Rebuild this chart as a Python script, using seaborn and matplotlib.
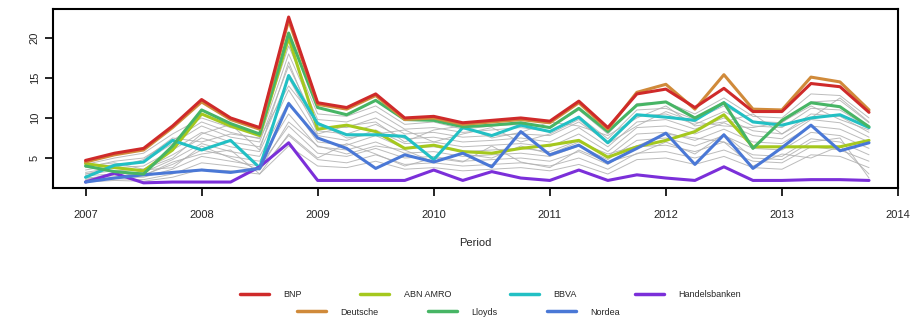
import numpy as np
import pandas as pd
import matplotlib
matplotlib.use("Agg")
import matplotlib.pyplot as plt
import seaborn as sns

# quarterly periods 2007.00 .. 2013.75
period = [2007.0, 2007.25, 2007.5, 2007.75, 2008.0, 2008.25, 2008.5, 2008.75,
          2009.0, 2009.25, 2009.5, 2009.75, 2010.0, 2010.25, 2010.5, 2010.75,
          2011.0, 2011.25, 2011.5, 2011.75, 2012.0, 2012.25, 2012.5, 2012.75,
          2013.0, 2013.25, 2013.5, 2013.75]

bnp = [4.7, 5.6, 6.2, 9.0, 12.3, 10.0, 8.8, 22.6, 11.9, 11.3, 13.0, 10.0, 10.2, 9.4,
       9.7, 10.0, 9.6, 12.1, 8.8, 13.0, 13.6, 11.3, 13.7, 10.8, 10.8, 14.3, 13.9, 10.7]
abn_amro = [4.3, 3.8, 3.4, 6.0, 10.5, 9.0, 7.8, 20.0, 8.6, 9.1, 8.3, 6.2, 6.6, 5.8,
            5.6, 6.2, 6.6, 7.2, 5.1, 6.4, 7.2, 8.3, 10.4, 6.4, 6.4, 6.4, 6.4, 7.2]
bbva = [2.6, 4.1, 4.5, 7.2, 6.0, 7.2, 3.8, 15.3, 9.3, 7.9, 7.9, 7.7, 4.8, 8.8,
        7.8, 9.1, 8.3, 10.1, 6.9, 10.4, 10.1, 9.7, 11.9, 9.5, 9.1, 10.0, 10.4, 8.8]
handelsbanken = [2.0, 3.1, 1.9, 2.0, 2.0, 2.0, 3.9, 6.9, 2.2, 2.2, 2.2, 2.2, 3.5, 2.2,
                 3.3, 2.5, 2.2, 3.5, 2.2, 2.9, 2.5, 2.2, 3.9, 2.2, 2.2, 2.3, 2.3, 2.2]
deutsche = [4.5, 5.4, 6.0, 8.8, 12.0, 9.8, 8.6, 22.2, 11.7, 11.1, 12.8, 9.8, 10.0, 9.2,
            9.5, 9.8, 9.4, 11.9, 8.6, 13.2, 14.2, 11.1, 15.4, 11.1, 11.0, 15.1, 14.5, 11.0]
lloyds = [4.0, 3.3, 3.0, 6.5, 11.0, 9.3, 8.0, 20.6, 11.3, 10.4, 12.2, 9.8, 9.7, 8.9,
          9.1, 9.4, 8.8, 11.2, 8.3, 11.6, 12.0, 10.0, 11.9, 6.2, 9.7, 11.9, 11.4, 8.9]
nordea = [2.0, 2.5, 2.9, 3.2, 3.5, 3.2, 3.7, 11.8, 7.5, 6.2, 3.7, 5.4, 4.5, 5.6,
          3.9, 8.3, 5.4, 6.6, 4.4, 6.2, 8.1, 4.2, 7.9, 3.7, 6.3, 9.1, 5.9, 6.9]

# background banks (thin grey lines)
grey_banks = [
    [4.2, 5.0, 5.6, 8.0, 10.0, 8.8, 8.0, 19.0, 10.5, 10.2, 11.5, 9.2, 9.5, 8.6, 9.0, 9.2, 8.8, 11.0, 8.0, 11.8, 12.0, 10.5, 12.5, 10.2, 10.0, 13.0, 12.8, 10.0],
    [3.8, 4.6, 5.0, 7.2, 9.5, 8.2, 7.4, 18.0, 9.8, 9.5, 10.8, 8.6, 8.8, 8.2, 8.5, 8.8, 8.3, 10.2, 7.4, 11.0, 11.2, 9.8, 11.5, 9.6, 9.4, 12.0, 12.2, 9.4],
    [3.5, 4.2, 4.5, 6.8, 9.0, 7.6, 7.0, 16.5, 9.0, 8.8, 10.0, 8.0, 8.2, 7.6, 7.8, 8.0, 7.8, 9.5, 7.0, 10.2, 10.5, 9.2, 10.8, 9.0, 8.8, 11.2, 11.0, 8.8],
    [3.2, 3.8, 4.0, 6.0, 8.2, 7.0, 6.4, 15.0, 8.4, 8.0, 9.2, 7.4, 7.6, 7.0, 7.2, 7.5, 7.0, 8.8, 6.4, 9.5, 9.8, 8.6, 10.0, 8.4, 8.0, 10.5, 10.2, 8.2],
    [3.0, 3.4, 3.6, 5.4, 7.5, 6.4, 5.8, 13.5, 7.8, 7.2, 8.5, 6.8, 7.0, 6.4, 6.6, 6.8, 6.4, 8.0, 5.8, 8.8, 9.0, 8.0, 9.4, 7.8, 7.4, 9.8, 9.4, 7.6],
    [2.8, 3.0, 3.2, 4.8, 6.8, 5.8, 5.2, 12.0, 7.0, 6.6, 7.8, 6.2, 6.4, 5.8, 6.0, 6.2, 5.8, 7.2, 5.2, 8.0, 8.2, 7.2, 8.6, 7.0, 6.8, 9.0, 8.6, 7.0],
    [2.5, 2.8, 2.9, 4.2, 6.0, 5.2, 4.6, 10.5, 6.4, 6.0, 7.0, 5.6, 5.8, 5.2, 5.4, 5.6, 5.2, 6.5, 4.8, 7.2, 7.5, 6.5, 7.8, 6.2, 6.0, 8.2, 7.8, 6.2],
    [2.3, 2.6, 2.6, 3.6, 5.2, 4.6, 4.0, 9.0, 5.6, 5.2, 6.2, 5.0, 5.2, 4.6, 4.8, 5.0, 4.6, 5.8, 4.2, 6.4, 6.6, 5.8, 7.0, 5.4, 5.2, 7.4, 7.0, 5.4],
    [2.1, 2.4, 2.3, 3.0, 4.4, 4.0, 3.5, 7.8, 4.8, 4.4, 5.4, 4.2, 4.4, 4.0, 4.2, 4.4, 4.0, 5.0, 3.6, 5.6, 5.8, 5.0, 6.0, 4.6, 4.4, 6.4, 6.0, 4.6],
    [2.0, 2.2, 2.1, 2.6, 3.6, 3.4, 3.0, 6.5, 4.0, 3.8, 4.6, 3.6, 3.8, 3.4, 3.6, 3.8, 3.4, 4.2, 3.0, 4.8, 5.0, 4.2, 5.2, 3.8, 3.6, 5.4, 5.2, 3.8],
    [4.0, 4.4, 3.6, 5.0, 8.0, 9.2, 6.0, 17.0, 8.0, 9.0, 9.5, 7.0, 8.5, 9.0, 7.5, 8.2, 9.5, 9.0, 7.8, 10.0, 11.5, 9.0, 9.5, 10.5, 8.0, 10.0, 12.5, 9.5],
    [3.0, 3.8, 4.8, 7.5, 7.0, 8.0, 7.5, 14.0, 9.5, 7.5, 8.0, 8.5, 7.0, 8.0, 8.8, 7.0, 8.0, 9.8, 6.8, 9.0, 10.8, 9.5, 9.0, 8.8, 9.5, 11.5, 9.8, 8.5],
    [2.2, 3.2, 2.8, 4.5, 5.5, 6.0, 3.0, 8.0, 5.0, 6.8, 5.5, 4.0, 5.0, 4.5, 6.5, 4.5, 3.8, 6.0, 4.5, 5.5, 7.0, 5.5, 8.0, 5.0, 4.8, 7.0, 7.5, 2.5],
    [2.5, 2.4, 3.5, 3.8, 6.5, 5.0, 3.5, 9.5, 6.5, 5.5, 6.5, 6.0, 4.5, 5.5, 5.0, 6.5, 5.5, 7.0, 5.5, 6.5, 8.0, 7.5, 7.0, 4.0, 5.5, 5.0, 6.5, 3.0],
]

sns.set_style("white")
plt.rcParams['font.family'] = ['Liberation Sans', 'DejaVu Sans']

fig = plt.figure(figsize=(9.22, 3.22), dpi=100)
ax = fig.add_axes([0.0575, 0.416, 0.9165, 0.556])

for g in grey_banks:
    sns.lineplot(x=period, y=g, ax=ax, color="#b0b0b0", lw=0.7, alpha=0.85)

highlight = [
    ("ABN AMRO", abn_amro, "#a5c81e"),
    ("BBVA", bbva, "#22c0c4"),
    ("Handelsbanken", handelsbanken, "#7b2fd9"),
    ("Nordea", nordea, "#4a78d6"),
    ("Lloyds", lloyds, "#47b565"),
    ("Deutsche", deutsche, "#d08a3a"),
    ("BNP", bnp, "#cf2a2a"),
]
handles = {}
for name, vals, col in highlight:
    sns.lineplot(x=period, y=vals, ax=ax, color=col, lw=2.2, label=name)
    handles[name] = ax.get_lines()[-1]
ax.get_legend().remove()

ax.set_xlim(2006.72, 2014.0)
ax.set_ylim(1.25, 23.6)
ax.set_xticks(range(2007, 2015))
ax.set_yticks([5, 10, 15, 20])
ax.tick_params(axis='both', direction='out', length=6, width=1.2, labelsize=8,
               bottom=True, left=True, color='black')
ax.tick_params(axis='x', pad=10)
for lab in ax.get_yticklabels():
    lab.set_rotation(90)
    lab.set_va('center')
for sp in ax.spines.values():
    sp.set_color('black')
    sp.set_linewidth(1.5)
ax.set_xlabel("Period", fontsize=8, labelpad=13)
ax.set_ylabel("")

row1 = ["BNP", "ABN AMRO", "BBVA", "Handelsbanken"]
row2 = ["Deutsche", "Lloyds", "Nordea"]
leg1 = fig.legend([handles[n] for n in row1], row1, loc='center', ncol=4,
                  bbox_to_anchor=(0.532, 0.084), frameon=False, fontsize=6.5,
                  handlelength=3.2, handletextpad=1.6, columnspacing=6.5)
leg2 = fig.legend([handles[n] for n in row2], row2, loc='center', ncol=3,
                  bbox_to_anchor=(0.497, 0.031), frameon=False, fontsize=6.5,
                  handlelength=3.2, handletextpad=1.6, columnspacing=5.5)
for leg in (leg1, leg2):
    for h in leg.legend_handles:
        h.set_linewidth(2.5)

fig.savefig("out.png", dpi=100)
